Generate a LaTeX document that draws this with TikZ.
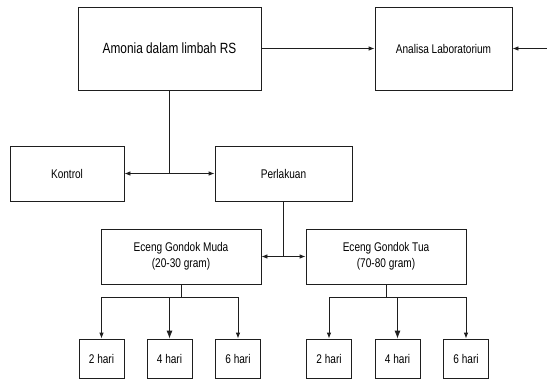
\documentclass[tikz,border=0pt]{standalone}
\usepackage{fontspec}
\setmainfont{Liberation Sans}[FakeStretch=0.8]
\usetikzlibrary{arrows.meta, positioning}
\definecolor{line1}{RGB}{30, 30, 30}

\begin{document}
\begin{tikzpicture}[
    x=1pt, y=-1pt,
    box/.style={
      rectangle, draw=line1, line width=0.8pt, fill=white,
      minimum width=#1, inner sep=2pt, align=center,
      font=\fontsize{12.6}{16}\selectfont
    },
    small/.style={box=45pt, minimum height=39pt},
    arr/.style={-{Latex[length=6pt, width=4.5pt]}, line width=0.8pt, line1},
    arrbig/.style={-{Latex[length=8pt, width=6pt]}, line width=0.8pt, line1},
    dblarr/.style={{Latex[length=6pt, width=4.5pt]}-{Latex[length=6pt, width=4.5pt]}, line width=0.8pt, line1},
    plain/.style={line width=0.8pt, line1},
  ]
  \useasboundingbox (0,0) rectangle (547,381);

  % Top row
  \node[box=183pt, minimum height=83pt, font=\fontsize{14.8}{17}\selectfont] (amonia) at (169.5, 48.5) {Amonia dalam limbah RS};
  \node[box=137pt, minimum height=83pt] (lab) at (443.5, 48.5) {Analisa Laboratorium};
  \coordinate (ext) at (547, 48.5);

  % Kontrol / Perlakuan
  \node[box=114pt, minimum height=55pt] (kontrol) at (67, 173.5) {Kontrol};
  \node[box=137pt, minimum height=55pt] (perlakuan) at (283.5, 173.5) {Perlakuan};

  % Eceng Gondok
  \node[box=160pt, minimum height=55pt] (muda) at (181, 256.5) {Eceng Gondok Muda\\(20-30 gram)};
  \node[box=160pt, minimum height=55pt] (tua) at (386, 256.5) {Eceng Gondok Tua\\(70-80 gram)};

  % Days
  \node[small] (m2) at (101.5, 358.5) {2 hari};
  \node[small] (m4) at (169.5, 358.5) {4 hari};
  \node[small] (m6) at (238, 358.5) {6 hari};
  \node[small] (t2) at (329, 358.5) {2 hari};
  \node[small] (t4) at (397.5, 358.5) {4 hari};
  \node[small] (t6) at (466, 358.5) {6 hari};

  % Arrows
  \draw[arr] (amonia) -- (lab);
  \draw[arr] (ext) -- (lab.east);
  \draw[plain] (amonia) -- (amonia |- kontrol);
  \draw[dblarr] (kontrol) -- (perlakuan);
  \draw[plain] (perlakuan) -- (perlakuan |- muda);
  \draw[dblarr] (muda) -- (tua);

  % Branches
  \coordinate[below=13pt of muda.south] (mbar);
  \coordinate[below=13pt of tua.south] (tbar);
  \draw[plain] (muda.south) -- (mbar);
  \draw[plain] (tua.south) -- (tbar);
  \draw[plain] (mbar -| m2) -- (mbar -| m6);
  \draw[plain] (tbar -| t2) -- (tbar -| t6);
  \foreach \b in {m2, m6} \draw[arr] (mbar -| \b) -- (\b);
  \foreach \b in {t2, t6} \draw[arr] (tbar -| \b) -- (\b);
  \draw[arrbig] (mbar -| m4) -- (m4);
  \draw[arrbig] (tbar -| t4) -- (t4);

\end{tikzpicture}
\end{document}
